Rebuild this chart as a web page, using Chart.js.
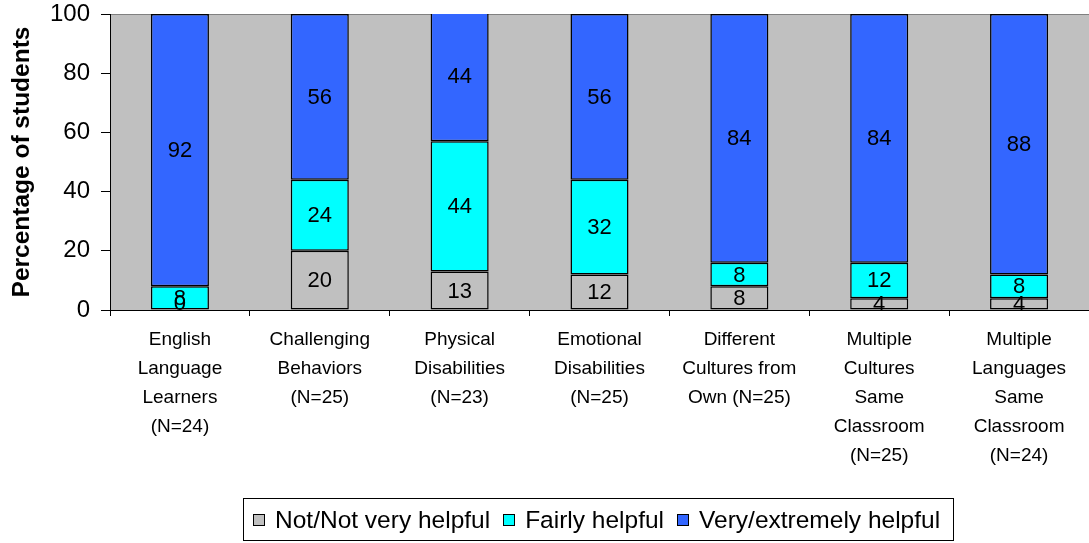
<!DOCTYPE html>
<html>
<head>
<meta charset="utf-8">
<script src="https://cdn.jsdelivr.net/npm/chart.js@4"></script>
<style>
  body { margin: 0; background: #fff; }
  #wrap { position: relative; width: 1089px; height: 543px; }
  #legend {
    position: absolute; left: 243px; top: 498px; width: 700px; height: 41px;
    border: 1px solid #000; display: flex; align-items: center;
    font: 24.5px 'Liberation Sans', Arial, sans-serif; color: #000;
    padding-left: 9px; box-sizing: content-box;
  }
  #legend .item { display: flex; align-items: center; margin-right: 13px; white-space: nowrap; }
  #legend .sw { width: 10px; height: 10px; border: 1px solid #000; margin-right: 10px; }
</style>
</head>
<body>
<div id="wrap">
  <canvas id="chart" width="1089" height="543"></canvas>
  <div id="legend"></div>
</div>
<script>
const categories = [
  ["English", "Language", "Learners", "(N=24)"],
  ["Challenging", "Behaviors", "(N=25)"],
  ["Physical", "Disabilities", "(N=23)"],
  ["Emotional", "Disabilities", "(N=25)"],
  ["Different", "Cultures from", "Own (N=25)"],
  ["Multiple", "Cultures", "Same", "Classroom", "(N=25)"],
  ["Multiple", "Languages", "Same", "Classroom", "(N=24)"],
];
const seriesNames = ["Not/Not very helpful", "Fairly helpful", "Very/extremely helpful"];
const seriesColors = ["#C0C0C0", "#00FFFF", "#3366FF"];
const notHelpful = [0, 20, 13, 12, 8, 4, 4];
const fairlyHelpful = [8, 24, 44, 32, 8, 12, 8];
const veryHelpful = [92, 56, 44, 56, 84, 84, 88];

const FONT = "'Liberation Sans', Arial, sans-serif";

// gray plot background + top line
const plotBg = {
  id: "plotBg",
  beforeDraw(chart) {
    const { ctx, chartArea: a } = chart;
    ctx.save();
    ctx.fillStyle = "#C0C0C0";
    ctx.fillRect(a.left, a.top, a.right - a.left, a.bottom - a.top);
    ctx.strokeStyle = "#808080";
    ctx.lineWidth = 1;
    ctx.beginPath();
    ctx.moveTo(a.left, a.top + 0.5);
    ctx.lineTo(a.right, a.top + 0.5);
    ctx.stroke();
    ctx.restore();
  },
};

// value labels in the middle of each segment
const valueLabels = {
  id: "valueLabels",
  afterDatasetsDraw(chart) {
    const { ctx } = chart;
    ctx.save();
    ctx.font = "22px " + FONT;
    ctx.fillStyle = "#000";
    ctx.textAlign = "center";
    ctx.textBaseline = "middle";
    chart.data.datasets.forEach((ds, i) => {
      chart.getDatasetMeta(i).data.forEach((el, j) => {
        let y = (el.y + el.base) / 2;
        if (ds.data[j] === 0) y -= 7;
        ctx.fillText(String(ds.data[j]), el.x, y + 1);
      });
    });
    ctx.restore();
  },
};

const ds = (i, data) => ({
  label: seriesNames[i],
  data: data,
  backgroundColor: seriesColors[i],
  borderColor: "#000",
  borderWidth: 1.5,
  borderSkipped: false,
  barPercentage: 0.415,
  categoryPercentage: 1,
});

const chart = new Chart(document.getElementById("chart"), {
  type: "bar",
  data: {
    labels: categories,
    datasets: [ds(0, notHelpful), ds(1, fairlyHelpful), ds(2, veryHelpful)],
  },
  options: {
    responsive: false,
    animation: false,
    layout: { padding: { top: 14, right: 0, left: 0, bottom: 45 } },
    scales: {
      x: {
        stacked: true,
        grid: {
          offset: true,
          drawOnChartArea: false,
          tickLength: 6,
          color: "#000",
        },
        border: { color: "#000", width: 1 },
        ticks: {
          color: "#000",
          maxRotation: 0,
          autoSkip: false,
          padding: 9,
          font: { family: FONT, size: 19, lineHeight: 1.53 },
        },
        afterFit(scale) {
          scale.height = 188;
        },
      },
      y: {
        stacked: true,
        min: 0,
        max: 100,
        ticks: {
          stepSize: 20,
          color: "#000",
          padding: 11,
          font: { family: FONT, size: 24, lineHeight: 0.2 },
        },
        grid: { drawOnChartArea: false, tickLength: 9, color: "#000" },
        border: { color: "#000", width: 1 },
        title: {
          display: true,
          text: "Percentage of students",
          color: "#000",
          padding: { top: 8, bottom: 0 },
          font: { family: FONT, size: 24.5, weight: "bold" },
        },
        afterFit(scale) {
          scale.width = 110;
        },
      },
    },
    plugins: {
      legend: { display: false },
      tooltip: { enabled: false },
    },
  },
  plugins: [plotBg, valueLabels],
});

// legend built from the datasets
const legendEl = document.getElementById("legend");
chart.data.datasets.forEach((d) => {
  const item = document.createElement("span");
  item.className = "item";
  const sw = document.createElement("span");
  sw.className = "sw";
  sw.style.background = d.backgroundColor;
  item.appendChild(sw);
  item.appendChild(document.createTextNode(d.label));
  legendEl.appendChild(item);
});
</script>
</body>
</html>
